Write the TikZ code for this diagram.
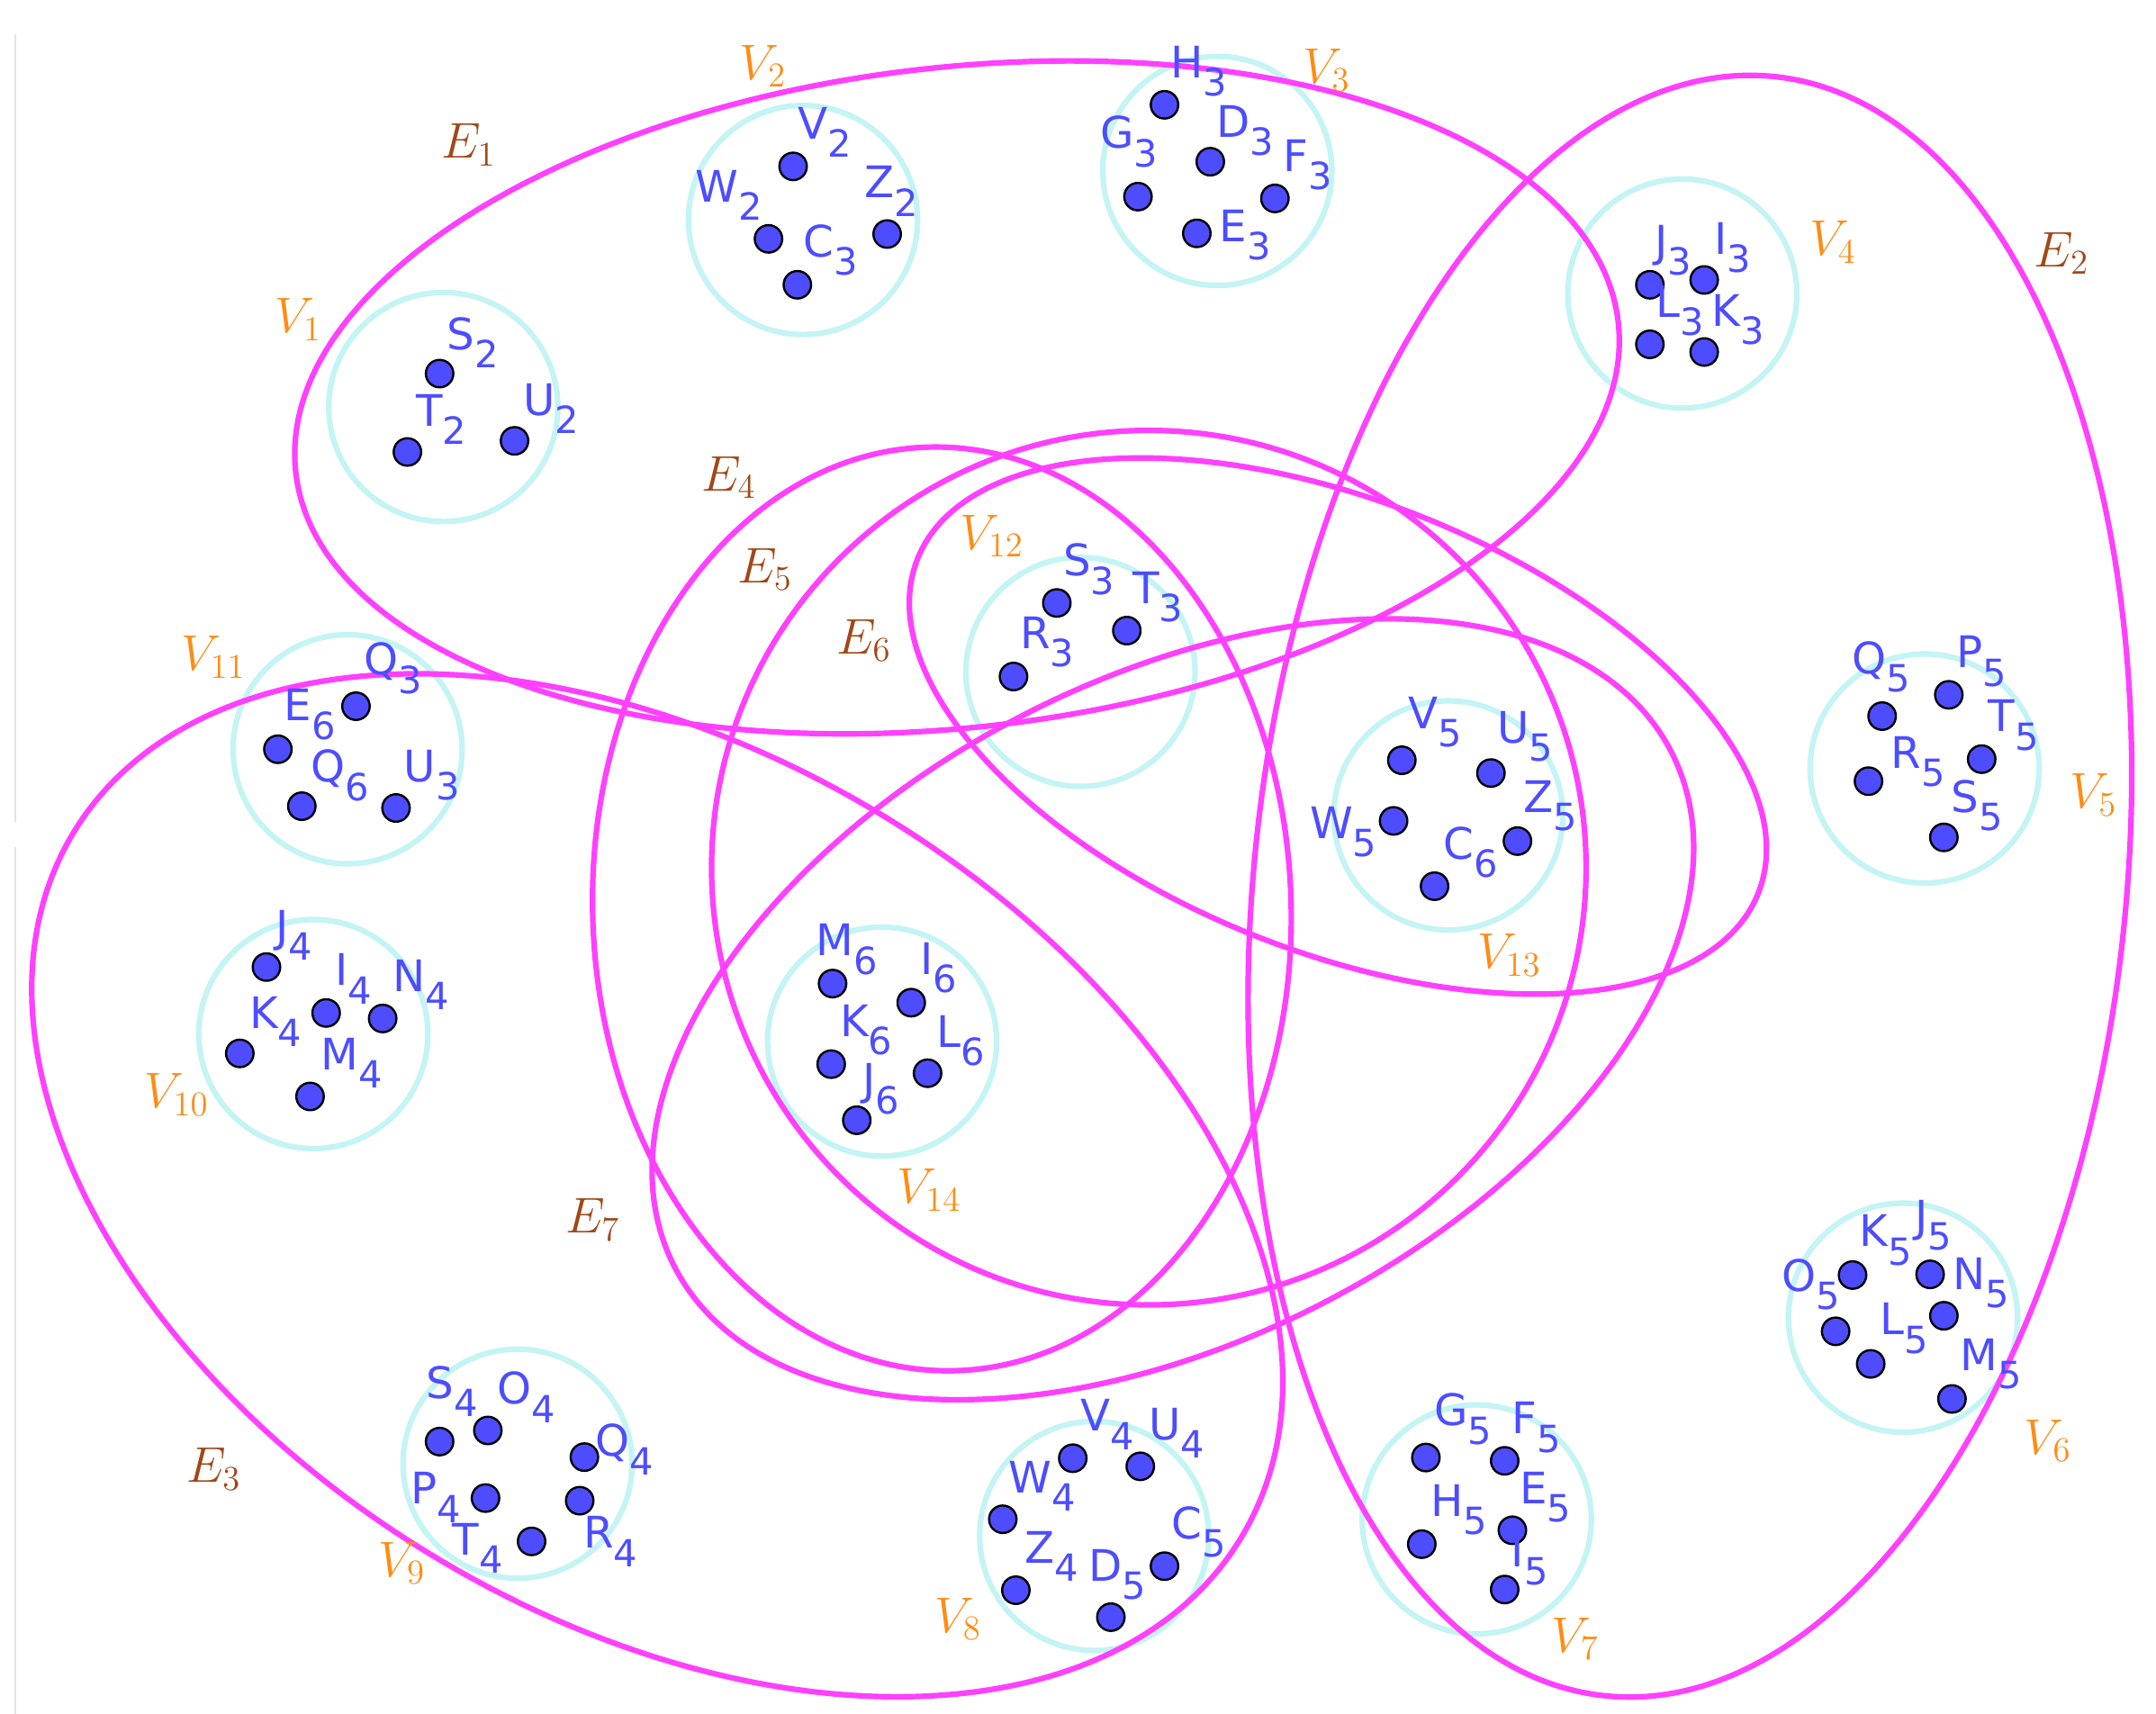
\documentclass[tikz,border=0pt]{standalone}
\usepackage{fontspec}
\newfontfamily\labfont{DejaVu Sans}
\definecolor{mag}{RGB}{255,64,255}
\definecolor{cyn}{RGB}{196,244,244}
\definecolor{ptblue}{RGB}{77,77,255}
\definecolor{vor}{RGB}{255,140,20}
\definecolor{ebr}{RGB}{160,72,24}
\definecolor{edgegray}{RGB}{228,228,228}
\newcommand{\plab}[2]{{\labfont\fontsize{18}{20}\selectfont #1\raisebox{-7.6pt}{\fontsize{15.5}{17}\selectfont #2}}}
\tikzset{
  hedge/.style={draw=mag, line width=2.3pt},
  vset/.style={draw=cyn, line width=2.3pt},
  pt/.style={circle, fill=ptblue, draw=black, line width=0.9pt, minimum size=0.40cm, inner sep=0pt},
  ptlab/.style={text=ptblue, inner sep=0pt},
  vlab/.style={text=vor, inner sep=0pt, font=\fontsize{20.74}{24}\selectfont},
  elab/.style={text=ebr, inner sep=0pt, font=\fontsize{20.74}{24}\selectfont},
}
\newcommand{\pnt}[5]{\node[pt] (p#1) at (#2) {}; \node[ptlab] (t#1) at (#3) {\plab{#4}{#5}};}
\begin{document}
\begin{tikzpicture}[x=0.02cm, y=-0.02cm]
\useasboundingbox (0,0) rectangle (1568,1246.5);
\fill[white] (0,0) rectangle (1568,1246.5);
% faint frame line at left
\coordinate (g1) at (10.9,25); \coordinate (g2) at (10.9,598);
\coordinate (g3) at (10.9,616); \coordinate (g4) at (10.9,1246.5);
\draw[edgegray, line width=0.8pt] (g1) -- (g2);
\draw[edgegray, line width=0.8pt] (g3) -- (g4);

% vertex sets (cyan circles)
\coordinate (c1) at (322.4,296);
\coordinate (c2) at (584,160);
\coordinate (c3) at (885.3,124.3);
\coordinate (c4) at (1223.5,213.5);
\coordinate (c5) at (1399.7,558.9);
\coordinate (c6) at (1384,958.3);
\coordinate (c7) at (1074,1105);
\coordinate (c8) at (795.8,1117);
\coordinate (c9) at (376.4,1064.5);
\coordinate (c10) at (227.9,752);
\coordinate (c11) at (252.8,544.9);
\coordinate (c12) at (785.8,488.6);
\coordinate (c13) at (1053.3,593);
\coordinate (c14) at (641.5,757.5);
\foreach \c in {c1,c2,c3,c4,c5,c6,c7,c8,c9,c10,c11,c12,c13,c14}
  \draw[vset] (\c) circle[radius=83.3];

% hyperedges (magenta ellipses)
\draw[hedge, rotate around={6.5:(696,289)}] (696,289) ellipse[x radius=484, y radius=240];
\draw[hedge, rotate around={-6:(1229,644.5)}] (1229,644.5) ellipse[x radius=317, y radius=592];
\draw[hedge, rotate around={-31.1:(478,862)}] (478,862) ellipse[x radius=496, y radius=315];
\draw[hedge, rotate around={1.8:(685,661)}] (685,661) ellipse[x radius=254, y radius=336];
\draw[hedge] (835.5,631) circle[radius=318];
\draw[hedge, rotate around={-21.7:(973,528)}] (973,528) ellipse[x radius=329, y radius=164];
\draw[hedge, rotate around={27.4:(853,734)}] (853,734) ellipse[x radius=408, y radius=240];

% points and their labels
\pnt{S2}{319.7,271.7}{344,249}{S}{2}
\pnt{T2}{296.3,328.7}{321,305}{T}{2}
\pnt{U2}{374.2,320.6}{401,297}{U}{2}

\pnt{V2}{576.8,121}{600,96}{V}{2}
\pnt{W2}{558.9,173.7}{530,142}{W}{2}
\pnt{Z2}{645.2,170.2}{648,139}{Z}{2}
\pnt{C3}{579.9,207.1}{604,182}{C}{3}

\pnt{H3}{846.9,76.2}{872,52}{H}{3}
\pnt{D3}{880.2,117.6}{905.5,95}{D}{3}
\pnt{G3}{827.6,143}{821,103}{G}{3}
\pnt{F3}{927.2,144.3}{951,120}{F}{3}
\pnt{E3}{870.4,169.7}{905.5,171}{E}{3}

\pnt{J3}{1199.9,207.1}{1217,182}{J}{3}
\pnt{I3}{1239.4,203.6}{1260,180}{I}{3}
\pnt{L3}{1199.9,250.4}{1222,226}{L}{3}
\pnt{K3}{1239.4,256}{1264,232.5}{K}{3}

\pnt{Q5}{1368.8,520.8}{1368,485}{Q}{5}
\pnt{P5}{1417.3,505.3}{1441,481}{P}{5}
\pnt{T5}{1441.2,552.1}{1464.5,527.5}{T}{5}
\pnt{R5}{1358.9,568.1}{1395,554}{R}{5}
\pnt{S5}{1413.7,609}{1438,586}{S}{5}

\pnt{K5}{1347.3,927.3}{1371.5,902}{K}{5}
\pnt{J5}{1403.7,926.8}{1406,891}{J}{5}
\pnt{N5}{1413.7,956.9}{1441,933}{N}{5}
\pnt{O5}{1335,968.2}{1317,934}{O}{5}
\pnt{L5}{1360.5,991.9}{1385,966}{L}{5}
\pnt{M5}{1419.6,1017.4}{1448,992}{M}{5}

\pnt{G5}{1037,1060}{1064,1032}{G}{5}
\pnt{F5}{1094.3,1062.4}{1117.5,1038}{F}{5}
\pnt{H5}{1034,1123}{1061,1098}{H}{5}
\pnt{E5}{1099.9,1112.9}{1124,1089}{E}{5}
\pnt{I5}{1094.3,1156}{1112.5,1134.5}{I}{5}

\pnt{V4}{780.2,1060.5}{805.5,1036}{V}{4}
\pnt{U4}{829.3,1066.4}{856,1042}{U}{4}
\pnt{W4}{729.3,1104.9}{758,1081}{W}{4}
\pnt{C5}{846.9,1139}{872,1114}{C}{5}
\pnt{Z4}{738.8,1156.5}{765,1132}{Z}{4}
\pnt{D5}{807.9,1176.1}{812.5,1145}{D}{5}

\pnt{S4}{319.7,1048.4}{329,1012}{S}{4}
\pnt{O4}{354.8,1040.3}{382.5,1016}{O}{4}
\pnt{Q4}{425,1059.7}{454,1054}{Q}{4}
\pnt{P4}{353.1,1089.5}{317,1089}{P}{4}
\pnt{R4}{421.6,1091.4}{444,1121}{R}{4}
\pnt{T4}{386.6,1121}{347.5,1126}{T}{4}

\pnt{J4}{193.8,703.3}{214,680}{J}{4}
\pnt{I4}{237.2,736.7}{257,712}{I}{4}
\pnt{N4}{278.3,740.7}{306,716}{N}{4}
\pnt{K4}{174.4,766.1}{200.5,743}{K}{4}
\pnt{M4}{225.5,797.4}{255.6,773}{M}{4}

\pnt{Q3}{258.9,513.6}{286,486}{Q}{3}
\pnt{E6}{202.1,544.9}{225.5,519.5}{E}{6}
\pnt{Q6}{219.5,586.3}{247,564}{Q}{6}
\pnt{U3}{288,587.6}{314,564}{U}{3}

\pnt{S3}{768.6,438.5}{792,414}{S}{3}
\pnt{T3}{819.5,458.6}{842,434}{T}{3}
\pnt{R3}{737.1,492}{761.6,467}{R}{3}

\pnt{V5}{1019.5,552.9}{1044,525}{V}{5}
\pnt{U5}{1084.3,562.2}{1109,535.5}{U}{5}
\pnt{W5}{1013.5,597}{977,605}{W}{5}
\pnt{Z5}{1103.6,611.7}{1127.5,586}{Z}{5}
\pnt{C6}{1043.3,644.5}{1069.4,620}{C}{6}

\pnt{M6}{605.5,715.3}{616,690.5}{M}{6}
\pnt{I6}{662.7,729.2}{682.7,704}{I}{6}
\pnt{K6}{604.5,773.9}{630,749}{K}{6}
\pnt{L6}{674.6,780.5}{698.5,757}{L}{6}
\pnt{J6}{623.1,814.7}{640.6,792}{J}{6}

% vertex-set labels
\node[vlab] (v1) at (217,232.5) {$V_{1}$};
\node[vlab] (v2) at (554.7,48) {$V_{2}$};
\node[vlab] (v3) at (965,51) {$V_{3}$};
\node[vlab] (v4) at (1333,176) {$V_{4}$};
\node[vlab] (v5) at (1522.6,578) {$V_{5}$};
\node[vlab] (v6) at (1489.4,1048) {$V_{6}$};
\node[vlab] (v7) at (1145.7,1192) {$V_{7}$};
\node[vlab] (v8) at (696.7,1177.5) {$V_{8}$};
\node[vlab] (v9) at (292.3,1137) {$V_{9}$};
\node[vlab] (v10) at (128.6,796) {$V_{10}$};
\node[vlab] (v11) at (155.4,478) {$V_{11}$};
\node[vlab] (v12) at (721.3,390) {$V_{12}$};
\node[vlab] (v13) at (1097.6,694.5) {$V_{13}$};
\node[vlab] (v14) at (675.7,865.5) {$V_{14}$};

% hyperedge labels
\node[elab] (e1) at (340.8,105.5) {$E_{1}$};
\node[elab] (e2) at (1499.3,184.4) {$E_{2}$};
\node[elab] (e3) at (155.4,1068.5) {$E_{3}$};
\node[elab] (e4) at (530.1,347.4) {$E_{4}$};
\node[elab] (e5) at (556.4,414.2) {$E_{5}$};
\node[elab] (e6) at (628.3,466) {$E_{6}$};
\node[elab] (e7) at (431,887) {$E_{7}$};
\end{tikzpicture}
\end{document}
